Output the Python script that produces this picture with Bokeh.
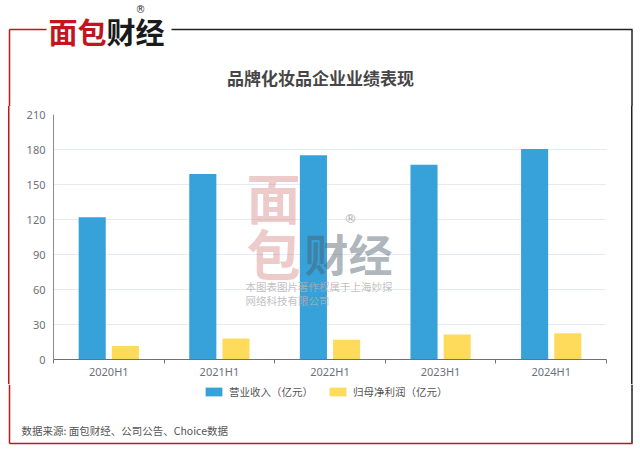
from bokeh.plotting import figure
from bokeh.models import Range1d, FixedTicker, Label, Legend, LegendItem
from bokeh.layouts import column, row
from bokeh.embed import file_html
from bokeh.resources import INLINE

categories = ["2020H1", "2021H1", "2022H1", "2023H1", "2024H1"]
revenue = [122, 159, 175, 167, 180.5]
net_profit = [11.5, 18, 17, 21.5, 22.5]
y_ticks = [0, 30, 60, 90, 120, 150, 180, 210]
series_names = ["营业收入（亿元）", "归母净利润（亿元）"]
title_text = "品牌化妆品企业业绩表现"
source_text = "数据来源: 面包财经、公司公告、Choice数据"

BLUE = "#37A2DA"
YELLOW = "#FFDB5C"
RED = "#c0161e"
DARK = "#222222"
FONT = "Noto Sans CJK SC"
TICK_FONT = "Noto Sans"

W = 640
TOP_H = 106      # header: y 0..106
MID_H = 278      # chart: y 106..384
BOT_H = 69       # footer: y 384..453
MID_Y0 = TOP_H
BOT_Y0 = TOP_H + MID_H


def blank(width, height, x0, x1, y_top, y_bottom):
    f = figure(width=width, height=height, output_backend="svg", toolbar_location=None,
               x_range=Range1d(x0, x1), y_range=Range1d(y_bottom, y_top),
               x_axis_location=None, y_axis_location=None, min_border=0)
    f.grid.visible = False
    f.outline_line_color = None
    f.background_fill_color = "white"
    f.border_fill_color = "white"
    return f


def txt(f, X, Y, text, size, color, bold=False, align="left", baseline="middle", alpha=1.0,
        units="data", font=FONT):
    f.add_layout(Label(x=X, y=Y, x_units=units, y_units=units, text=text,
                       text_font=font, text_font_size=size, text_color=color, text_alpha=alpha,
                       text_font_style="bold" if bold else "normal",
                       text_align=align, text_baseline=baseline))


# ---------------- header ----------------
head = blank(W, TOP_H, 0, W, 0, TOP_H)
head.segment(x0=[9, 171], y0=[29, 29], x1=[46, 632], y1=[29, 29], line_color=[RED, DARK], line_width=1.5)
head.segment(x0=[9, 631.5], y0=[29, 29], x1=[9, 631.5], y1=[TOP_H, TOP_H], line_color=[RED, DARK], line_width=1.5)
txt(head, 48, 30, "面包", "29px", RED, bold=True)
txt(head, 106, 30, "财经", "29px", "#1a1a1a", bold=True)
txt(head, 140, 9, "®", "10px", "#333333", align="center", font="DejaVu Sans")
txt(head, 320, 77, title_text, "17px", "#464646", bold=True, align="center")

# ---------------- chart ----------------
p = figure(width=W, height=MID_H, output_backend="svg", toolbar_location=None,
           x_range=Range1d(0, len(categories)), y_range=Range1d(0, 210),
           min_border_left=53, min_border_right=34, min_border_top=114 - MID_Y0,
           min_border_bottom=MID_Y0 + MID_H - 359)
p.outline_line_color = None
p.background_fill_color = "white"
p.border_fill_alpha = 0
# side border lines of the outer frame, drawn behind the transparent canvas
p.styles = {
    "background-color": "white",
    "background-image": f"linear-gradient({RED}, {RED}), linear-gradient({DARK}, {DARK})",
    "background-size": "1.5px 100%, 1.5px 100%",
    "background-position": "8.25px 0px, 630.75px 0px",
    "background-repeat": "no-repeat",
}

centers = [i + 0.5 for i in range(len(categories))]
xb = [c - 0.15 for c in centers]
xy = [c + 0.15 for c in centers]
p.vbar(x=xb, top=revenue, width=0.245, color=BLUE, line_color=None)
p.vbar(x=xy, top=net_profit, width=0.245, color=YELLOW, line_color=None)

xa = p.xaxis[0]
xa.ticker = FixedTicker(ticks=centers, minor_ticks=list(range(len(categories) + 1)))
xa.major_label_overrides = {c: lab for c, lab in zip(centers, categories)}
xa.major_tick_line_color = None
xa.major_tick_out = 0
xa.major_tick_in = 0
xa.minor_tick_out = 4
xa.minor_tick_in = 0
xa.minor_tick_line_color = "#6e7079"
xa.axis_line_color = "#6e7079"
xa.major_label_standoff = 0
xa.major_label_text_font = TICK_FONT
xa.major_label_text_font_size = "11px"
xa.major_label_text_color = "#6e7079"

ya = p.yaxis[0]
ya.ticker = FixedTicker(ticks=y_ticks)
ya.minor_tick_line_color = None
ya.major_tick_line_color = None
ya.major_tick_out = 0
ya.axis_line_color = "#8a8c93"
ya.major_label_standoff = 8
ya.major_label_text_font = TICK_FONT
ya.major_label_text_font_size = "11px"
ya.major_label_text_color = "#6e7079"

p.xgrid.grid_line_color = None
p.ygrid.grid_line_color = "#e6eaf2"
p.ygrid.ticker = FixedTicker(ticks=y_ticks)


# watermark, in screen px relative to the chart frame (bottom-left at window (53, 359))
def sx(X):
    return X - 53


def sy(Y):
    return 359 - Y


for X, Y, t, size, color, bold, alpha in [
    (273, 196, "面", "54px", "#d98c8c", True, 0.45),
    (273, 252, "包", "54px", "#d98c8c", True, 0.45),
    (348, 252, "财经", "44px", "#4a5a66", True, 0.45),
]:
    txt(p, sx(X), sy(Y), t, size, color, bold=bold, align="center", alpha=alpha, units="screen")
txt(p, sx(350), sy(218), "®", "13px", "#888888", align="center", alpha=0.7, units="screen",
    font="DejaVu Sans")
txt(p, sx(245), sy(286), "本图表图片著作权属于上海妙探", "10.5px", "#b0b0b0", alpha=0.8, units="screen")
txt(p, sx(245), sy(300), "网络科技有限公司", "10.5px", "#b0b0b0", alpha=0.8, units="screen")

# ---------------- footer ----------------
foot = blank(W, BOT_H, 0, W, BOT_Y0, 453)
foot.segment(x0=[9, 631.5], y0=[BOT_Y0, BOT_Y0], x1=[9, 631.5], y1=[443, 443],
             line_color=[RED, DARK], line_width=1.5)
foot.segment(x0=[9], y0=[443], x1=[632], y1=[443], line_color=RED, line_width=1.5)
# hidden renderers (outside the visible range) that only supply the legend swatches
lr1 = foot.vbar(x=[-500], top=[0], bottom=[0], width=1, color=BLUE, line_color=None)
lr2 = foot.vbar(x=[-500], top=[0], bottom=[0], width=1, color=YELLOW, line_color=None)
legend = Legend(items=[LegendItem(label=series_names[0], renderers=[lr1]),
                       LegendItem(label=series_names[1], renderers=[lr2])],
                orientation="horizontal", location=(203, 453 - 399),
                glyph_width=21, glyph_height=11, label_height=11, label_standoff=5, spacing=14,
                label_text_font=FONT, label_text_font_size="10.5px", label_text_color="#555555",
                border_line_color=None, background_fill_alpha=0, padding=0, margin=0)
foot.add_layout(legend, "center")
txt(foot, 21, 430, source_text, "10.5px", "#555555")

layout = column(head, row(p), foot, spacing=0)
open("out.html", "w").write(file_html(layout, INLINE))
